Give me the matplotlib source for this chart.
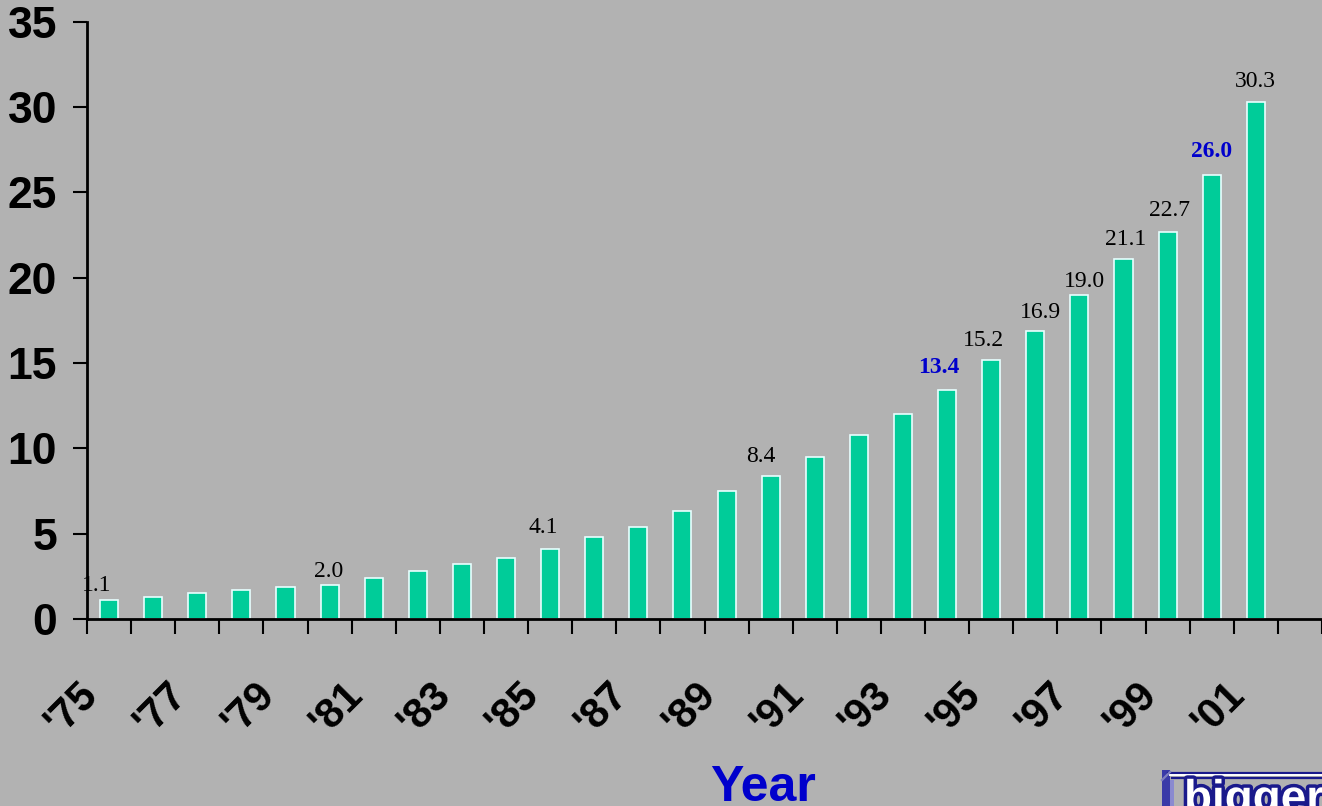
import matplotlib
matplotlib.use("Agg")
import matplotlib.pyplot as plt
import matplotlib.transforms as mtransforms
import matplotlib.patheffects as pe
from matplotlib.patches import Rectangle
from matplotlib.lines import Line2D

# ---- data -------------------------------------------------------------
years = list(range(1975, 2002))
values = [1.1, 1.3, 1.5, 1.7, 1.9, 2.0, 2.4, 2.8, 3.2, 3.6,
          4.1, 4.8, 5.4, 6.3, 7.5, 8.4, 9.5, 10.8, 12.0, 13.4,
          15.2, 16.9, 19.0, 21.1, 22.7, 26.0, 30.3]
tick_labels = ["'75", "'77", "'79", "'81", "'83", "'85", "'87",
               "'89", "'91", "'93", "'95", "'97", "'99", "'01"]
labelled_years = [1975, 1980, 1985, 1990, 1994, 1995, 1996, 1997,
                  1998, 1999, 2000, 2001]
highlight_years = [1994, 2000]

# value-label nudges (pixels: dx, gap above bar)
label_nudge = {1975: (-12, 9), 1980: (-1, 8), 1985: (-7, 16), 1990: (-10, 14),
               1994: (-8, 17), 1995: (-8, 14), 1996: (5, 13), 1997: (5, 8),
               1998: (2, 14), 1999: (2, 16), 2000: (0, 18), 2001: (0, 15)}

# ---- style ------------------------------------------------------------
W, H = 1322, 806
BG = "#b2b2b2"
BAR = "#00cc99"
BLUE = "#0000cc"
NAVY = "#1a1a8c"
SANS = ["Liberation Sans", "DejaVu Sans"]
SERIF = ["Liberation Serif", "DejaVu Serif"]

fig = plt.figure(figsize=(W / 100, H / 100), dpi=100, facecolor=BG)
x0, x1, y0, y1 = 87, 1322, 619, 21.7
ax = fig.add_axes([x0 / W, (H - y0) / H, (x1 - x0) / W, (y0 - y1) / H])
ax.set_facecolor(BG)

xs = list(range(len(years)))
ax.bar(xs, values, width=0.41, color=BAR, edgecolor="#e8ffff", linewidth=1.2,
       zorder=3)

ax.set_xlim(-0.5, 27.5)
ax.set_ylim(0, 35)

for s in ("top", "right"):
    ax.spines[s].set_visible(False)
for s in ("left", "bottom"):
    ax.spines[s].set_linewidth(2)
    ax.spines[s].set_color("black")
    ax.spines[s].set_zorder(4)

# y axis
ax.set_yticks(range(0, 36, 5))
ax.tick_params(axis="y", direction="out", length=10, width=1.5, pad=11.5,
               labelsize=32)
for t in ax.get_yticklabels():
    t.set_fontfamily(SANS)
    t.set_fontweight("bold")

# x axis: boundary ticks as minor, labels on category centres
ax.set_xticks([i - 0.5 for i in range(29)], minor=True)
ax.set_xticks(xs[::2])
ax.set_xticklabels(tick_labels)
ax.tick_params(axis="x", which="minor", direction="out", length=10.8,
               width=1.5)
ax.tick_params(axis="x", which="major", length=0, pad=39.5, labelsize=30)
shift = mtransforms.ScaledTranslation(-3 / 100, 0, fig.dpi_scale_trans)
for t in ax.get_xticklabels():
    t.set_fontfamily(SANS)
    t.set_fontweight("bold")
    t.set_rotation(45)
    t.set_ha("right")
    t.set_va("top")
    t.set_transform(t.get_transform() + shift)

# value labels
for yr in labelled_years:
    i = years.index(yr)
    v = values[i]
    dx, gap = label_nudge[yr]
    hl = yr in highlight_years
    ax.annotate(f"{v:.1f}", xy=(i, v), xytext=(dx * 0.72, gap * 0.72),
                textcoords="offset points", ha="center", va="baseline",
                fontsize=17, fontfamily=SERIF,
                fontweight="bold" if hl else "normal",
                color=BLUE if hl else "black", zorder=5)

# axis title
fig.text(763 / W, 5 / H, "Year", ha="center", va="baseline", fontsize=36,
         fontweight="bold", color=BLUE, fontfamily=SANS)


# corner badge (runs off the canvas)
def fx(px):
    return px / W


def fy(py):
    return (H - py) / H


fig.add_artist(Line2D([fx(1168), fx(1330)], [fy(772.5), fy(772.5)],
                      transform=fig.transFigure, color=NAVY, lw=1.6))
fig.add_artist(Line2D([fx(1170), fx(1330)], [fy(775), fy(775)],
                      transform=fig.transFigure, color="white", lw=1.4))
fig.add_artist(Line2D([fx(1172), fx(1330)], [fy(777.5), fy(777.5)],
                      transform=fig.transFigure, color=NAVY, lw=1.6))
fig.add_artist(Line2D([fx(1162), fx(1170)], [fy(780), fy(772)],
                      transform=fig.transFigure, color="#8080c0", lw=1.6))
fig.add_artist(Rectangle((fx(1162), fy(810)), fx(8), (40 / H),
                         transform=fig.transFigure, facecolor="#3a3aa8",
                         edgecolor="none"))
fig.add_artist(Rectangle((fx(1170), fy(810)), fx(4), (30 / H),
                         transform=fig.transFigure, facecolor="#8a8ad0",
                         edgecolor="none"))
fig.text(fx(1184), fy(812), "bigger", ha="left", va="baseline", fontsize=33,
         fontweight="bold", color="white", fontfamily=SANS,
         path_effects=[pe.withStroke(linewidth=5, foreground=NAVY)])

fig.savefig("out.png", dpi=100, facecolor=BG)
